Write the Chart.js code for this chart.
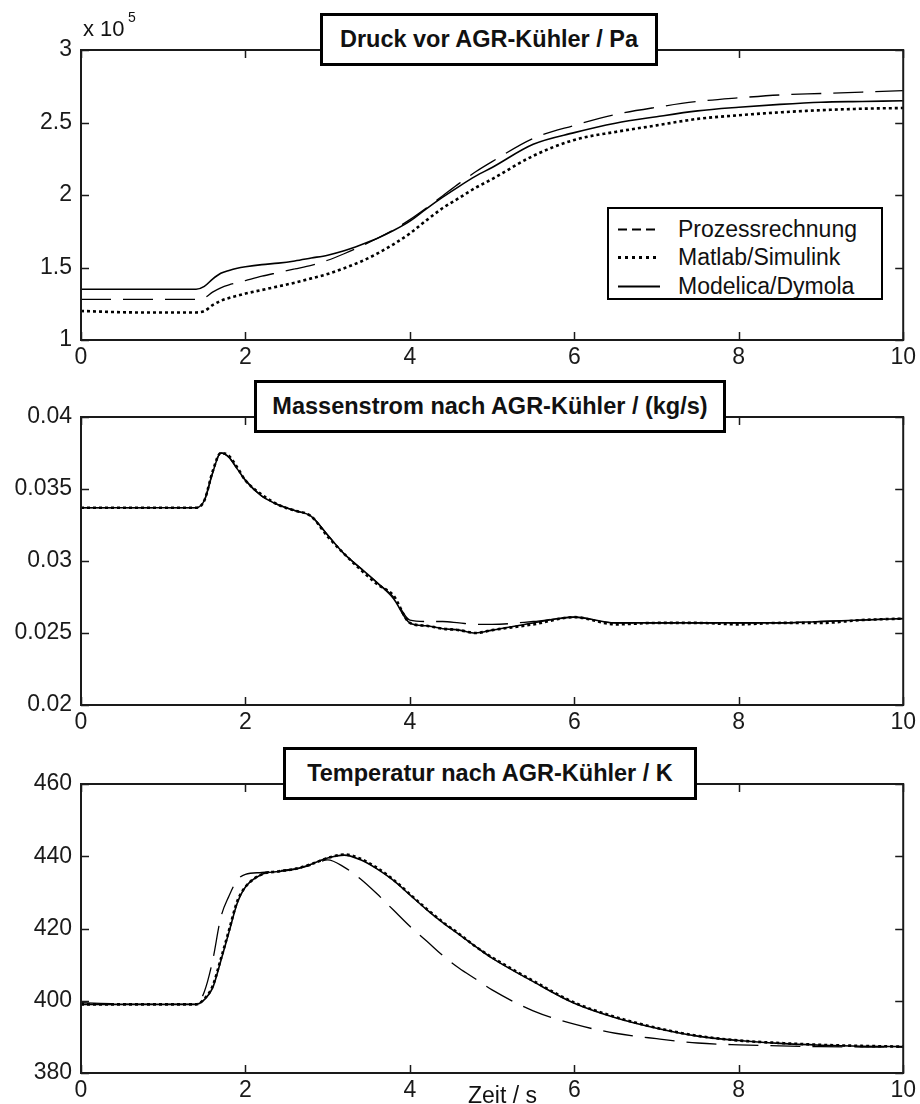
<!DOCTYPE html>
<html>
<head>
<meta charset="utf-8">
<script src="https://cdn.jsdelivr.net/npm/chart.js@4.4.1/dist/chart.umd.min.js"></script>
<style>
  body { margin: 0; background: #fff; font-family: 'Liberation Sans', Arial, sans-serif; color: #111; }
  #wrap { position: relative; width: 920px; height: 1104px; overflow: hidden; }
  canvas { position: absolute; left: 0; }
  .titlebox { position: absolute; box-sizing: border-box; border: 3px solid #000; background: #fff;
    font-weight: bold; font-size: 23.5px; display: flex; align-items: center; justify-content: center; white-space: nowrap; }
  .txt { position: absolute; line-height: 1; white-space: nowrap; }
  #legend { position: absolute; left: 607px; top: 207px; width: 276px; height: 93px; box-sizing: border-box;
    border: 2px solid #000; background: #fff; }
  .lrow { position: absolute; left: 0; height: 23px; width: 100%; }
  .lrow svg { position: absolute; left: 9px; top: 0; }
  .lrow span { position: absolute; left: 69px; top: 0; font-size: 23px; line-height: 1; }
</style>
</head>
<body>
<div id="wrap">
  <canvas id="c1" width="920" height="370" style="top:0px"></canvas>
  <canvas id="c2" width="920" height="365" style="top:370px"></canvas>
  <canvas id="c3" width="920" height="369" style="top:735px"></canvas>

  <div class="titlebox" style="left:320px;top:13px;width:338px;height:53px">Druck vor AGR-Kühler / Pa</div>
  <div class="titlebox" style="left:254px;top:380px;width:472px;height:53px">Massenstrom nach AGR-Kühler / (kg/s)</div>
  <div class="titlebox" style="left:283px;top:747px;width:414px;height:53px">Temperatur nach AGR-Kühler / K</div>

  <div class="txt" style="left:83px;top:18px;font-size:22px">x 10</div>
  <div class="txt" style="left:128px;top:10px;font-size:14px">5</div>
  <div class="txt" style="left:468px;top:1084px;font-size:23px">Zeit / s</div>

  <div id="legend"></div>
</div>

<script>
// Zeitachse (s), gemeinsam fuer alle Kurven
const zeit = [0, 0.7, 1.4, 1.5, 1.6, 1.7, 1.8, 1.9, 2.0, 2.2, 2.4, 2.6, 2.8, 3.0, 3.2, 3.4, 3.6, 3.8,
  4.0, 4.2, 4.4, 4.6, 4.8, 5.0, 5.5, 6.0, 6.5, 7.0, 7.5, 8.0, 8.5, 9.0, 9.5, 10];

const seriesLabels = ['Prozessrechnung', 'Matlab/Simulink', 'Modelica/Dymola'];

// Druck vor AGR-Kuehler / Pa
const druckProzess = [128000, 128000, 128000, 129000, 133000, 136000, 138000, 139500, 141000, 144000, 146500, 149000,
  151500, 155000, 159500, 164500, 170000, 176000, 183000, 191000, 199500, 208000, 216000, 223000,
  239000, 248000, 255500, 260500, 264500, 267000, 269000, 270000, 271000, 272000];
const druckMatlab = [120000, 119000, 119000, 120000, 124000, 127000, 129000, 130500, 132000, 134500, 137000, 139500,
  142500, 145500, 149500, 154000, 159500, 166000, 173500, 182500, 191000, 198000, 205000, 211000,
  227000, 238000, 243500, 248000, 252500, 255000, 257000, 258500, 259500, 260000];
const druckModelica = [135000, 135000, 135000, 137000, 142000, 146000, 148000, 149500, 150500, 152000, 153000, 154500,
  156500, 158500, 161500, 165500, 170000, 175500, 182000, 190500, 198500, 206000, 213000, 219000,
  235000, 243000, 249500, 254000, 258000, 260500, 262500, 264000, 264500, 265000];

// Massenstrom nach AGR-Kuehler / (kg/s)
const massProzess = [0.0337, 0.0337, 0.0337, 0.0342, 0.0361, 0.0375, 0.0372, 0.0364, 0.0356, 0.0345, 0.0339, 0.0335,
  0.0331, 0.0318, 0.0305, 0.0295, 0.0285, 0.0275, 0.0259, 0.0258, 0.0258, 0.0257, 0.0256, 0.0256,
  0.0258, 0.0261, 0.0257, 0.0257, 0.0257, 0.0257, 0.0257, 0.0258, 0.0259, 0.0260];
const massMatlab = [0.0337, 0.0337, 0.0337, 0.0342, 0.0362, 0.0375, 0.0373, 0.0365, 0.0356, 0.0346, 0.0339, 0.0335,
  0.0331, 0.0317, 0.0305, 0.0294, 0.0284, 0.0276, 0.0257, 0.0255, 0.0253, 0.0252, 0.0250, 0.0252,
  0.0256, 0.0261, 0.0256, 0.0257, 0.0257, 0.0256, 0.0257, 0.0257, 0.0259, 0.0260];
const massModelica = [0.0337, 0.0337, 0.0337, 0.0342, 0.0361, 0.0375, 0.0372, 0.0364, 0.0356, 0.0345, 0.0339, 0.0335,
  0.0331, 0.0318, 0.0305, 0.0295, 0.0285, 0.0274, 0.0257, 0.0255, 0.0253, 0.0252, 0.0250, 0.0252,
  0.0257, 0.0261, 0.0257, 0.0257, 0.0257, 0.0257, 0.0257, 0.0258, 0.0259, 0.0260];

// Temperatur nach AGR-Kuehler / K
const tempProzess = [399.5, 399, 399, 402.5, 411, 423, 429, 433.4, 435, 435.5, 436, 436.5,
  437.5, 439, 437, 433.7, 429.6, 425.1, 420.6, 416.6, 412.5, 409, 406, 403,
  397.2, 393.5, 391, 389.5, 388.3, 387.8, 387.5, 387.3, 387.2, 387.2];
const tempMatlab = [399, 399, 399, 400.5, 404, 411.5, 419.5, 427.5, 431.5, 435, 435.8, 436.5,
  437.8, 439.5, 440.5, 439.3, 436.8, 433.5, 429.5, 425.5, 421.8, 418.5, 415, 412,
  405.5, 399.5, 395.5, 392.5, 390.3, 389, 388.3, 387.8, 387.5, 387.3];
const tempModelica = [399, 399, 399, 400.3, 403.5, 411, 419, 427, 431.5, 435, 435.8, 436.4,
  437.8, 439.5, 440.3, 439, 436.5, 433.3, 429.3, 425.3, 421.6, 418.3, 415, 411.8,
  405.3, 399.3, 395.3, 392.4, 390.2, 389, 388.2, 387.7, 387.4, 387.3];

// Achsenbeschriftung
const xTicks = [0, 2, 4, 6, 8, 10];
const druckTicks = [100000, 150000, 200000, 250000, 300000];
const massTicks = [0.02, 0.025, 0.03, 0.035, 0.04];
const tempTicks = [380, 400, 420, 440, 460];

// Linienstile: gestrichelt, gepunktet, durchgezogen
const lineStyles = [
  { borderDash: [30, 12], borderWidth: 1.3, legendDash: '9 5', legendWidth: 2 },
  { borderDash: [3, 3], borderWidth: 2.6, legendDash: '3 4', legendWidth: 3 },
  { borderDash: [], borderWidth: 1.6, legendDash: '', legendWidth: 2.2 }
];

Chart.defaults.font.family = "'Liberation Sans', Arial, sans-serif";
Chart.defaults.font.size = 23;
Chart.defaults.color = '#1a1a1a';

// Rahmen + Matlab-Ticks nach innen
const frameTicks = {
  id: 'frameTicks',
  afterDraw(chart) {
    const { ctx, chartArea: a, scales } = chart;
    const x = scales.x, y = scales.y;
    ctx.save();
    ctx.strokeStyle = '#1a1a1a';
    ctx.lineWidth = 1.5;
    ctx.beginPath();
    x.ticks.forEach(t => {
      const px = Math.round(x.getPixelForValue(t.value)) + 0.5;
      ctx.moveTo(px, a.bottom); ctx.lineTo(px, a.bottom - 8);
      ctx.moveTo(px, a.top); ctx.lineTo(px, a.top + 8);
    });
    y.ticks.forEach(t => {
      const py = Math.round(y.getPixelForValue(t.value)) + 0.5;
      ctx.moveTo(a.left, py); ctx.lineTo(a.left + 8, py);
      ctx.moveTo(a.right, py); ctx.lineTo(a.right - 8, py);
    });
    ctx.stroke();
    ctx.lineWidth = 2;
    ctx.strokeRect(a.left, a.top, a.right - a.left, a.bottom - a.top);
    ctx.restore();
  }
};

function makePanel(id, padTop, xAxisHeight, yTicks, fmt, seriesValues) {
  const datasets = seriesValues.map((vals, i) => ({
    label: seriesLabels[i],
    data: zeit.map((t, k) => ({ x: t, y: vals[k] })),
    borderColor: '#000',
    borderWidth: lineStyles[i].borderWidth,
    borderDash: lineStyles[i].borderDash,
    borderCapStyle: 'butt',
    pointRadius: 0,
    cubicInterpolationMode: 'monotone',
    fill: false
  }));

  return new Chart(document.getElementById(id), {
    type: 'line',
    data: { datasets: datasets },
    options: {
      responsive: false,
      animation: false,
      events: [],
      layout: { autoPadding: false, padding: { top: padTop, right: 13, bottom: 0, left: 0 } },
      plugins: { legend: { display: false }, tooltip: { enabled: false }, title: { display: false } },
      scales: {
        x: {
          type: 'linear',
          min: 0, max: 10,
          grid: { display: false, drawTicks: false },
          border: { display: false },
          afterBuildTicks: s => { s.ticks = xTicks.map(v => ({ value: v })); },
          afterFit: s => { s.height = xAxisHeight; },
          ticks: { padding: 4, maxRotation: 0, autoSkip: false, callback: v => String(v) }
        },
        y: {
          min: yTicks[0], max: yTicks[yTicks.length - 1],
          grid: { display: false, drawTicks: false },
          border: { display: false },
          afterBuildTicks: s => { s.ticks = yTicks.map(v => ({ value: v })); },
          afterFit: s => { s.width = 81; },
          ticks: { padding: 9, autoSkip: false, callback: fmt }
        }
      }
    },
    plugins: [frameTicks]
  });
}

makePanel('c1', 50, 30, druckTicks, v => String(v / 100000), [druckProzess, druckMatlab, druckModelica]);
makePanel('c2', 47, 30, massTicks, v => String(v), [massProzess, massMatlab, massModelica]);
makePanel('c3', 49, 31, tempTicks, v => String(v), [tempProzess, tempMatlab, tempModelica]);

// Legende im oberen Diagramm
const legend = document.getElementById('legend');
seriesLabels.forEach((name, i) => {
  const row = document.createElement('div');
  row.className = 'lrow';
  row.style.top = (8.5 + i * 28.5) + 'px';
  const st = lineStyles[i];
  row.innerHTML =
    `<svg width="44" height="23"><line x1="0" y1="11.5" x2="42" y2="11.5" stroke="#000" stroke-width="${st.legendWidth}"` +
    (st.legendDash ? ` stroke-dasharray="${st.legendDash}"` : '') + `/></svg><span>${name}</span>`;
  legend.appendChild(row);
});
</script>
</body>
</html>
